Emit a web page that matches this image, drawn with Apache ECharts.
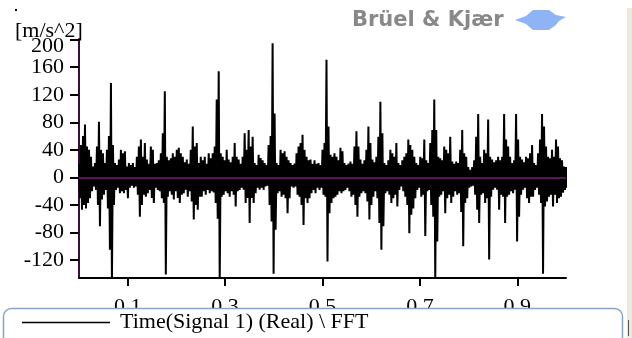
<!DOCTYPE html>
<html>
<head>
<meta charset="utf-8">
<script src="https://cdn.jsdelivr.net/npm/echarts@6/dist/echarts.min.js"></script>
<style>
  html, body { margin: 0; padding: 0; background: #fff; }
  #chart { width: 632px; height: 338px; }
</style>
</head>
<body>
<div id="chart"></div>
<script>
// upper / lower envelope of the time signal, one pair every 1/244 s
var upper = [
  20,47,60,77,45,40,30,16,21,45,
  81,40,35,21,40,60,137,47,21,18,
  26,40,35,38,16,21,18,21,15,30,
  45,55,30,50,26,20,45,40,20,21,
  25,35,64,125,30,25,28,35,30,40,
  43,35,30,22,26,20,40,74,45,50,
  21,30,25,30,20,35,28,35,45,113,
  154,35,30,25,40,26,22,30,50,30,
  26,20,30,64,40,69,45,59,21,18,
  33,28,25,21,18,47,60,195,93,21,
  18,40,35,38,30,25,21,18,20,35,
  45,50,62,40,30,25,26,20,25,20,
  21,18,40,50,171,74,33,30,35,30,
  25,43,38,21,18,20,23,20,45,67,
  45,26,20,25,40,74,50,26,22,30,
  59,110,64,21,18,25,40,35,30,50,
  21,18,25,30,35,55,47,40,30,21,
  18,30,28,55,25,21,50,69,113,69,
  30,28,25,45,40,35,59,23,20,23,
  21,40,69,35,30,15,11,15,25,59,
  92,30,21,40,35,84,30,26,22,25,
  30,25,30,92,55,45,30,21,25,92,
  55,30,26,22,30,28,35,47,21,18,
  35,55,92,74,45,30,28,40,30,55,
  45,28,25,16,15
];
var lower = [
  -30,-47,-40,-45,-37,-30,-20,-13,-18,-40,
  -71,-32,-25,-18,-45,-105,-150,-40,-18,-15,
  -23,-20,-23,-18,-30,-15,-12,-15,-13,-25,
  -57,-40,-25,-28,-23,-18,-30,-37,-15,-18,
  -20,-30,-37,-141,-28,-20,-25,-32,-20,-30,
  -37,-25,-23,-18,-28,-20,-35,-61,-40,-47,
  -28,-28,-20,-25,-18,-23,-20,-22,-37,-60,
  -150,-28,-25,-20,-23,-28,-20,-25,-42,-20,
  -18,-15,-18,-37,-30,-66,-30,-37,-23,-15,
  -18,-15,-18,-13,-12,-40,-64,-140,-76,-23,
  -20,-28,-25,-30,-52,-30,-13,-15,-13,-25,
  -28,-40,-69,-30,-37,-30,-23,-18,-23,-15,
  -18,-15,-25,-28,-122,-52,-37,-30,-28,-25,
  -20,-23,-20,-18,-15,-20,-28,-25,-40,-57,
  -28,-23,-20,-23,-35,-61,-40,-28,-20,-30,
  -66,-105,-71,-23,-20,-25,-37,-30,-25,-42,
  -18,-13,-20,-28,-40,-81,-54,-45,-30,-18,
  -15,-28,-25,-85,-20,-18,-40,-57,-150,-93,
  -28,-25,-20,-52,-30,-25,-37,-28,-20,-25,
  -23,-50,-100,-37,-30,-15,-13,-12,-25,-47,
  -66,-25,-23,-37,-30,-119,-28,-18,-15,-18,
  -47,-25,-28,-66,-28,-25,-20,-23,-18,-93,
  -57,-25,-18,-15,-30,-37,-28,-28,-18,-15,
  -25,-37,-140,-42,-35,-28,-25,-42,-25,-37,
  -30,-28,-22,-18,-15
];
var xTicks = [0.1, 0.3, 0.5, 0.7, 0.9];
var yTicks = [-120, -80, -40, 0, 40, 80, 120, 160, 200];
var seriesName = 'Time(Signal 1) (Real) \\ FFT';
var unitName = '[m/s^2]';

var dt = 1 / 244;
var signal = [];
for (var i = 0; i < upper.length; i++) {
  signal.push([i * dt, upper[i]]);
  signal.push([i * dt + dt / 2, lower[i]]);
}

var serif = 'Liberation Serif';
var yTop = yTicks[yTicks.length - 1];
var chart = echarts.init(document.getElementById('chart'));
chart.setOption({
  animation: false,
  grid: { left: 79, right: 66, top: 39, bottom: 60 },
  xAxis: {
    type: 'value',
    min: 0,
    max: 1,
    splitLine: { show: false },
    axisLine: { onZero: false, lineStyle: { color: '#000', width: 2 } },
    axisTick: { customValues: xTicks, length: 8, lineStyle: { color: '#000', width: 2 } },
    axisLabel: {
      customValues: xTicks,
      margin: 18,
      color: '#000',
      fontFamily: serif,
      fontSize: 22,
      formatter: function (v) { return v.toFixed(1); }
    }
  },
  yAxis: {
    type: 'value',
    min: -146,
    max: 201,
    splitLine: { show: false },
    axisLine: { lineStyle: { color: '#3d0b3d', width: 2 } },
    axisTick: { customValues: yTicks, length: 9, lineStyle: { color: '#000', width: 2 } },
    axisLabel: {
      customValues: yTicks,
      margin: 15,
      color: '#000',
      fontFamily: serif,
      fontSize: 22,
      // top label is drawn a bit lower, below
      formatter: function (v) { return v === yTop ? '' : String(v); }
    }
  },
  series: [{
    name: seriesName,
    type: 'line',
    symbol: 'none',
    lineStyle: { color: '#000', width: 2 },
    data: signal,
    markLine: {
      silent: true,
      symbol: 'none',
      label: { show: false },
      lineStyle: { color: '#5a145a', width: 2, type: 'solid' },
      data: [{ yAxis: 0 }]
    }
  }],
  graphic: [
    // top-left dot and unit
    { type: 'rect', z: 100, shape: { x: 15, y: 9, width: 2, height: 2 }, style: { fill: '#000' } },
    { type: 'text', z: 100, left: 15, top: 20,
      style: { text: unitName, fontFamily: serif, fontSize: 22, fill: '#000' } },
    { type: 'text', z: 100, x: 64, y: 46,
      style: { text: String(yTop), fontFamily: serif, fontSize: 22, fill: '#000', align: 'right', verticalAlign: 'middle' } },
    // logo
    { type: 'text', z: 100, left: 352, top: 10,
      style: { text: 'Brüel & Kjær', fontFamily: 'DejaVu Sans', fontWeight: 'bold', fontSize: 21, fill: '#888' } },
    { type: 'polygon', z: 100,
      shape: { points: [[515, 20], [526, 16], [533, 10], [549, 10], [556, 15], [566, 17], [559, 21], [556, 25], [549, 30], [533, 30], [526, 24]] },
      style: { fill: '#8fb4f6' } },
    // right frame strip
    { type: 'rect', z: 100, shape: { x: 627, y: 8, width: 5, height: 330 }, style: { fill: '#ece9d8' } },
    { type: 'line', z: 101, shape: { x1: 628.5, y1: 320, x2: 628.5, y2: 336 }, style: { stroke: '#555', lineWidth: 1 } },
    // legend box
    { type: 'rect', z: 100, shape: { x: 3.5, y: 308.5, width: 619, height: 40, r: 8 },
      style: { fill: '#fff', stroke: '#8aa4c8', lineWidth: 1.5 } },
    { type: 'line', z: 101, shape: { x1: 22, y1: 322.5, x2: 110, y2: 322.5 }, style: { stroke: '#000', lineWidth: 1.5 } },
    { type: 'text', z: 101, left: 120, top: 311,
      style: { text: seriesName, fontFamily: serif, fontSize: 22, fill: '#000' } }
  ]
});
</script>
</body>
</html>
